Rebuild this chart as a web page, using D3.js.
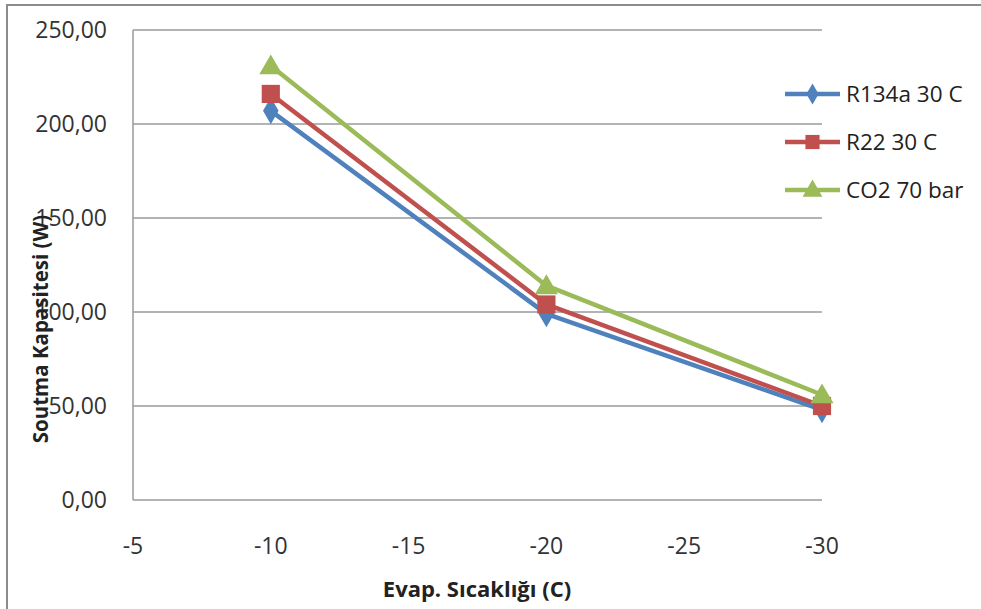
<!DOCTYPE html>
<html><head><meta charset="utf-8">
<script src="https://cdn.jsdelivr.net/npm/d3@7"></script>
<style>
html,body{margin:0;padding:0;background:#fff;}
svg{display:block;}
</style></head>
<body>
<svg id="chart" width="981" height="609"></svg>
<script>
const categories = [-10, -20, -30];
const seriesNames = ["R134a 30 C", "R22 30 C", "CO2 70 bar"];
const r134a = [207, 99, 48];
const r22 = [216, 104, 50];
const co2 = [231, 114, 56];
const yTicks = [0, 50, 100, 150, 200, 250];
const xTicks = [-5, -10, -15, -20, -25, -30];
const colors = ["#4F81BD", "#C0504D", "#9BBB59"];
const symbols = [d3.symbolDiamond, d3.symbolSquare, d3.symbolTriangle];

(function () {
const svg = d3.select("#chart");
const font = "'Open Sans', 'Liberation Sans', sans-serif";
const pLeft = 133, pRight = 822, pTop = 30, pBottom = 500;

// frame
svg.append("rect").attr("x", 7).attr("y", 5).attr("width", 990).attr("height", 620)
  .attr("fill", "#fff").attr("stroke", "#8c8c8c").attr("stroke-width", 2);

const x = d3.scaleLinear().domain([-5, -30]).range([pLeft, pRight]);
const y = d3.scaleLinear().domain([0, 250]).range([pBottom, pTop]);

// gridlines
svg.append("g").selectAll("line").data(yTicks).join("line")
  .attr("x1", pLeft).attr("x2", pRight)
  .attr("y1", d => y(d)).attr("y2", d => y(d))
  .attr("stroke", "#9a9a9a").attr("stroke-width", 1.5);
// left axis
svg.append("line").attr("x1", pLeft).attr("x2", pLeft).attr("y1", pTop).attr("y2", pBottom)
  .attr("stroke", "#9a9a9a").attr("stroke-width", 1.5);

const fmt = v => d3.format(".2f")(v).replace(".", ",");
svg.append("g").selectAll("text").data(yTicks).join("text")
  .attr("x", 107).attr("y", d => y(d)).attr("dy", "0.36em")
  .attr("text-anchor", "end").attr("font-family", font).attr("font-size", 23)
  .attr("fill", "#333").text(fmt);

svg.append("g").selectAll("text").data(xTicks).join("text")
  .attr("x", d => x(d)).attr("y", 554)
  .attr("text-anchor", "middle").attr("font-family", font).attr("font-size", 23)
  .attr("fill", "#333").text(d => d);

// axis titles
svg.append("text").attr("x", 477).attr("y", 597).attr("text-anchor", "middle")
  .attr("font-family", font).attr("font-size", 22).attr("font-weight", "bold")
  .attr("fill", "#222").text("Evap. Sıcaklığı (C)");
svg.append("text").attr("transform", "translate(48,329) rotate(-90)")
  .attr("text-anchor", "middle").attr("font-family", font).attr("font-size", 20.5)
  .attr("font-weight", "bold").attr("fill", "#222").text("Soutma Kapasitesi (W)");

const all = [r134a, r22, co2];
const line = d3.line().x((d, i) => x(categories[i])).y(d => y(d));
const markerSize = [210, 330, 230];

all.forEach((vals, s) => {
  const g = svg.append("g");
  g.append("path").datum(vals).attr("d", line).attr("fill", "none")
    .attr("stroke", colors[s]).attr("stroke-width", 4.5).attr("stroke-linejoin", "round");
  g.selectAll("path.m").data(vals).join("path").attr("class", "m")
    .attr("transform", (d, i) => `translate(${x(categories[i])},${y(d) + (s === 2 ? 2 : 0)})`)
    .attr("d", d3.symbol().type(symbols[s]).size(markerSize[s]))
    .attr("fill", colors[s]);
});

// legend
const legY = [94, 142, 190];
const legSize = [130, 200, 170];
seriesNames.forEach((name, s) => {
  const g = svg.append("g");
  g.append("line").attr("x1", 785).attr("x2", 840).attr("y1", legY[s]).attr("y2", legY[s])
    .attr("stroke", colors[s]).attr("stroke-width", 4.5);
  g.append("path").attr("transform", `translate(812.5,${legY[s] + (s === 2 ? 1 : 0)})`)
    .attr("d", d3.symbol().type(symbols[s]).size(legSize[s])).attr("fill", colors[s]);
  g.append("text").attr("x", 846).attr("y", legY[s]).attr("dy", "0.36em")
    .attr("font-family", font).attr("font-size", 22.5).attr("fill", "#222").text(name);
});
})();
</script>
</body></html>
